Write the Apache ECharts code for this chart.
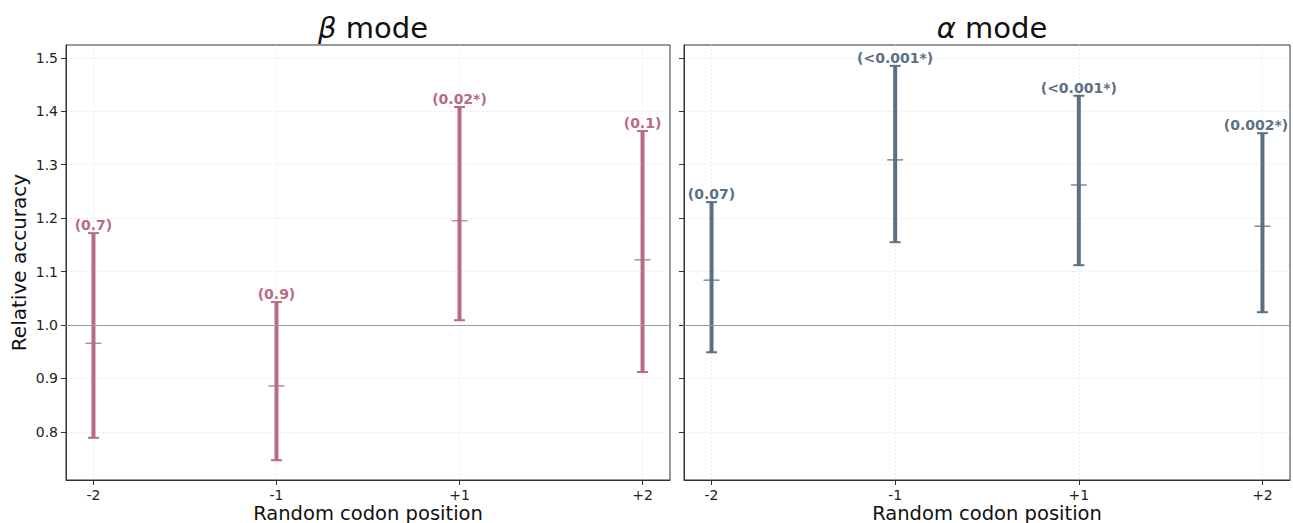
<!DOCTYPE html>
<html>
<head>
<meta charset="utf-8">
<script src="https://cdn.jsdelivr.net/npm/echarts@6/dist/echarts.min.js"></script>
<style>html,body{margin:0;padding:0;background:#fff;}#c{width:1293px;height:523px;}</style>
</head>
<body>
<div id="c"></div>
<script>
const categories = ['-2', '-1', '+1', '+2'];
const yTicks = [0.8, 0.9, 1.0, 1.1, 1.2, 1.3, 1.4, 1.5];
const betaLow  = [0.789, 0.747, 1.009, 0.912];
const betaMean = [0.966, 0.886, 1.195, 1.122];
const betaHigh = [1.172, 1.043, 1.408, 1.363];
const betaP    = ['(0.7)', '(0.9)', '(0.02*)', '(0.1)'];
const alphaLow  = [0.949, 1.155, 1.112, 1.024];
const alphaMean = [1.084, 1.309, 1.262, 1.185];
const alphaHigh = [1.230, 1.485, 1.429, 1.359];
const alphaP    = ['(0.07)', '(<0.001*)', '(<0.001*)', '(0.002*)'];

const PINK = '#b86b85';
const SLATE = '#5b7183';
const FONT = 'DejaVu Sans';

function buildData(low, mean, high) {
  return categories.map((c, i) => [i, low[i], mean[i], high[i]]);
}

function renderErr(color, labels) {
  return function (params, api) {
    const x = api.value(0);
    const lo = api.coord([x, api.value(1)]);
    const me = api.coord([x, api.value(2)]);
    const hi = api.coord([x, api.value(3)]);
    const txt = labels[params.dataIndex];
    const cap = 5.5, mcap = 8;
    return {
      type: 'group',
      children: [
        {type: 'line', shape: {x1: hi[0], y1: hi[1], x2: lo[0], y2: lo[1]}, style: {stroke: color, lineWidth: 4}},
        {type: 'line', shape: {x1: hi[0] - cap, y1: hi[1], x2: hi[0] + cap, y2: hi[1]}, style: {stroke: color, lineWidth: 2}},
        {type: 'line', shape: {x1: lo[0] - cap, y1: lo[1], x2: lo[0] + cap, y2: lo[1]}, style: {stroke: color, lineWidth: 2}},
        {type: 'line', shape: {x1: me[0] - mcap, y1: me[1], x2: me[0] + mcap, y2: me[1]}, style: {stroke: color, lineWidth: 1.2}},
        {type: 'text', style: {text: txt, x: Math.min(hi[0], 1256), y: hi[1] - 1, align: 'center', verticalAlign: 'bottom',
          font: 'bold 14px "' + FONT + '"', fill: color}}
      ]
    };
  };
}

const chart = echarts.init(document.getElementById('c'), null, {renderer: 'svg'});

function xAxis(gridIndex) {
  return {
    type: 'value', gridIndex: gridIndex, min: -0.15, max: 3.15,
    name: 'Random codon position', nameLocation: 'middle', nameGap: 23, nameMoveOverlap: false,
    nameTextStyle: {fontFamily: FONT, fontSize: 19.5, color: '#111', verticalAlign: 'top'},
    axisLine: {show: true, onZero: false, lineStyle: {color: '#333', width: 1}},
    axisTick: {show: true, length: 5, lineStyle: {color: '#333'}, customValues: [0, 1, 2, 3]},
    axisLabel: {fontFamily: FONT, fontSize: 14, color: '#222', margin: 8, customValues: [0, 1, 2, 3],
      formatter: v => categories[Math.round(v)]},
    splitLine: {show: true, lineStyle: {color: '#e6e6e6', type: [2, 2], width: 0.8}}
  };
}
function yAxis(gridIndex, showLabels) {
  return {
    type: 'value', gridIndex: gridIndex, min: 0.710, max: 1.524,
    name: showLabels ? 'Relative accuracy' : '', nameLocation: 'middle', nameGap: 37, nameRotate: 90,
    nameMoveOverlap: false,
    nameTextStyle: {fontFamily: FONT, fontSize: 20, color: '#111'},
    axisLine: {show: true, onZero: false, lineStyle: {color: '#333', width: 1}},
    axisTick: {show: true, length: 5, lineStyle: {color: '#333'}, customValues: yTicks},
    axisLabel: {show: showLabels, fontFamily: FONT, fontSize: 14, color: '#222', margin: 8, customValues: yTicks,
      formatter: v => v.toFixed(1)},
    splitLine: {show: true, lineStyle: {color: '#e6e6e6', type: [2, 2], width: 0.8}}
  };
}

function refLine() {
  return {
    silent: true, symbol: 'none', label: {show: false},
    lineStyle: {color: '#999', width: 1.2, type: 'solid'},
    data: [{yAxis: 1.0}]
  };
}

function titleObj(greek, cx) {
  return {text: '{g|' + greek + '} mode', left: cx, top: 8, textAlign: 'center',
    textStyle: {fontFamily: FONT, fontSize: 29, fontWeight: 'normal', color: '#111',
      rich: {g: {fontFamily: FONT, fontSize: 29, fontStyle: 'italic', color: '#111'}}}};
}

chart.setOption({
  animation: false,
  backgroundColor: '#fff',
  title: [titleObj('β', 368), titleObj('α', 987)],
  grid: [
    {left: 66, right: 623, top: 45, bottom: 43, outerBoundsMode: 'none', containLabel: false,
      show: true, borderColor: '#333', borderWidth: 1, backgroundColor: 'transparent'},
    {left: 684, right: 3, top: 45, bottom: 43, outerBoundsMode: 'none', containLabel: false,
      show: true, borderColor: '#333', borderWidth: 1, backgroundColor: 'transparent'}
  ],
  xAxis: [xAxis(0), xAxis(1)],
  yAxis: [yAxis(0, true), yAxis(1, false)],
  series: [
    {type: 'custom', xAxisIndex: 0, yAxisIndex: 0, renderItem: renderErr(PINK, betaP),
      encode: {x: 0, y: [1, 2, 3]}, data: buildData(betaLow, betaMean, betaHigh),
      markLine: refLine(), clip: false, z: 3},
    {type: 'custom', xAxisIndex: 1, yAxisIndex: 1, renderItem: renderErr(SLATE, alphaP),
      encode: {x: 0, y: [1, 2, 3]}, data: buildData(alphaLow, alphaMean, alphaHigh),
      markLine: refLine(), clip: false, z: 3}
  ]
});
</script>
</body>
</html>
